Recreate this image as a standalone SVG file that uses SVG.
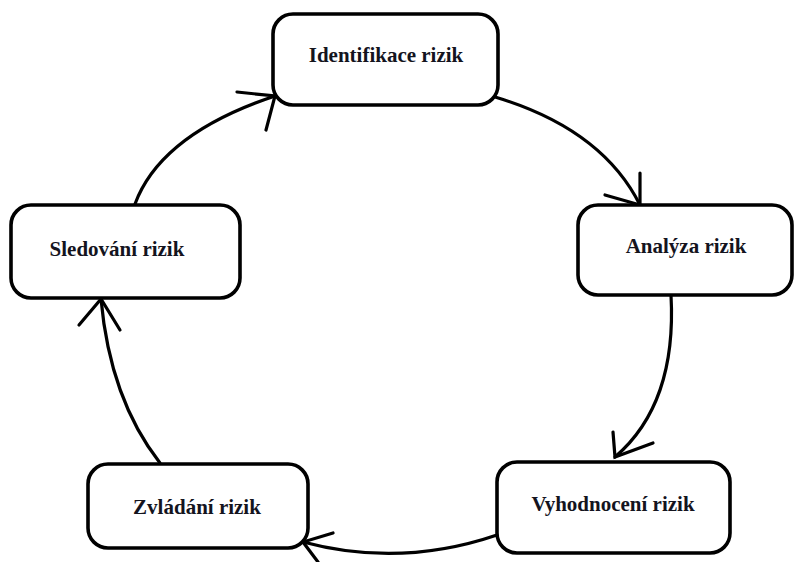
<svg xmlns="http://www.w3.org/2000/svg" width="795" height="562" viewBox="0 0 795 562">
  <style>
    .box { fill: #ffffff; stroke: #000000; stroke-width: 3.6; }
    .lbl { font-family: "Liberation Serif", "Times New Roman", serif; font-weight: bold; font-size: 21px; fill: #14141e; text-anchor: middle; }
    .edge { fill: none; stroke: #000000; stroke-width: 3.2; stroke-linecap: round; }
  </style>
  <rect width="795" height="562" fill="#ffffff"/>

  <!-- connectors: hand-drawn curves with open arrowheads -->
  <g id="connectors">
    <!-- Identifikace -> Analyza -->
    <path class="edge" d="M495,97 Q602,129 640,205"/>
    <path class="edge" d="M640,173 L640,205 L605,195"/>
    <!-- Analyza -> Vyhodnoceni -->
    <path class="edge" d="M671,295 Q677,404 615,457"/>
    <path class="edge" d="M613,432 L615,457 L653,443"/>
    <!-- Vyhodnoceni -> Zvladani -->
    <path class="edge" d="M497,535 Q400,568 303,542"/>
    <path class="edge" d="M333,533 L303,542 L318,562"/>
    <!-- Zvladani -> Sledovani -->
    <path class="edge" d="M160,463 Q110,399 101,299"/>
    <path class="edge" d="M79,325 L101,299 L120,330"/>
    <!-- Sledovani -> Identifikace -->
    <path class="edge" d="M135,204 Q161,134 275,96"/>
    <path class="edge" d="M237,92 L275,96 L266,130"/>
  </g>

  <g id="identifikace">
    <rect class="box" x="273" y="14" width="225" height="91" rx="20" ry="20"/>
    <text class="lbl" x="386" y="62">Identifikace rizik</text>
  </g>

  <g id="analyza">
    <rect class="box" x="578" y="205" width="214" height="90" rx="20" ry="20"/>
    <text class="lbl" x="686" y="253">Analýza rizik</text>
  </g>

  <g id="vyhodnoceni">
    <rect class="box" x="497" y="462" width="233" height="91" rx="20" ry="20"/>
    <text class="lbl" x="613" y="511">Vyhodnocení rizik</text>
  </g>

  <g id="zvladani">
    <rect class="box" x="88" y="464" width="220" height="84" rx="20" ry="20"/>
    <text class="lbl" x="197" y="514">Zvládání rizik</text>
  </g>

  <g id="sledovani">
    <rect class="box" x="11" y="205" width="229" height="93" rx="20" ry="20"/>
    <text class="lbl" x="117" y="256">Sledování rizik</text>
  </g>
</svg>
